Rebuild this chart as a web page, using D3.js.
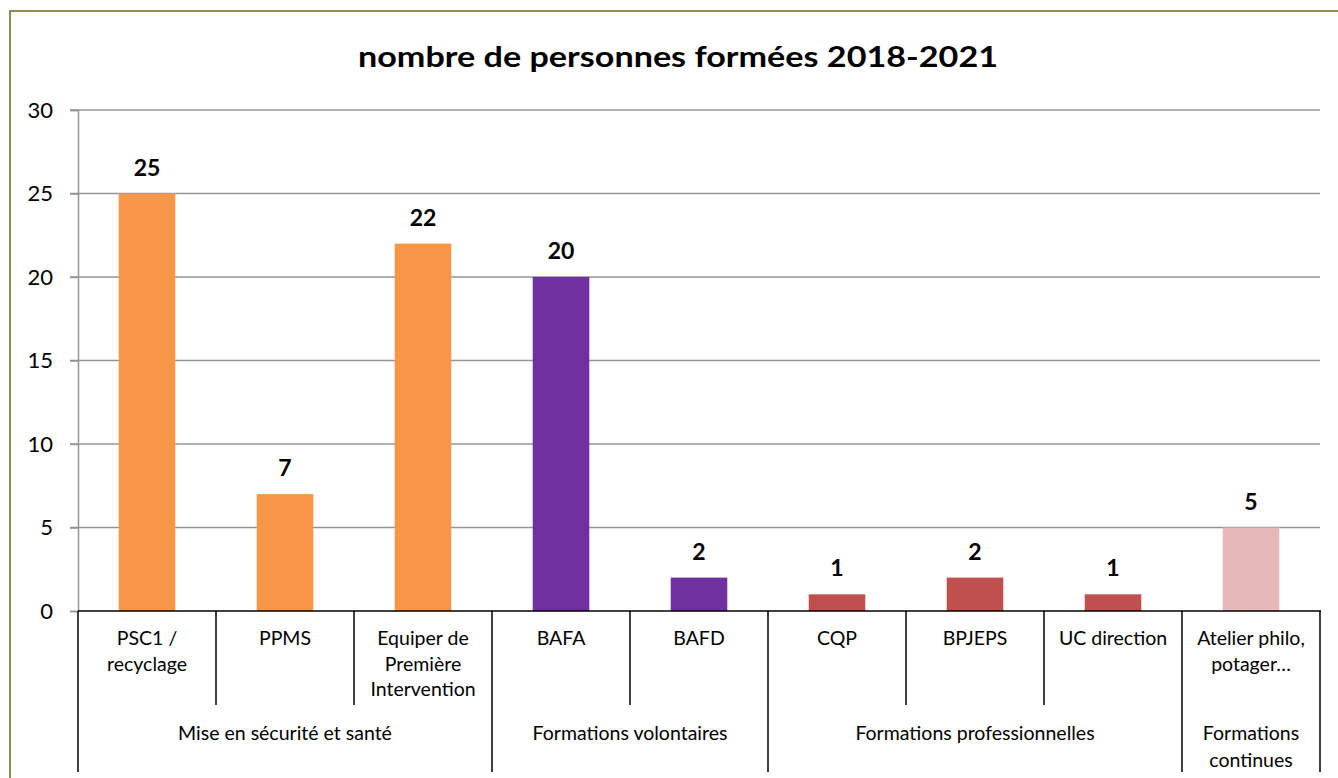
<!DOCTYPE html>
<html lang="fr">
  <head>
    <meta charset="UTF-8" />
    <title>nombre de personnes formées 2018-2021</title>
    <script src="https://d3js.org/d3.v7.min.js"></script>
    <style>
      body { margin: 0; background: white; }
      text { font-family: Lato, "Open Sans", sans-serif; fill: #000; }
    </style>
  </head>
  <body>
    <div id="chart"></div>
    <script>
      // données
      const categories = [
        "PSC1 /\nrecyclage",
        "PPMS",
        "Equiper de\nPremière\nIntervention",
        "BAFA",
        "BAFD",
        "CQP",
        "BPJEPS",
        "UC direction",
        "Atelier philo,\npotager…"
      ];
      const values = [25, 7, 22, 20, 2, 1, 2, 1, 5];
      const groupOf = [0, 0, 0, 1, 1, 2, 2, 2, 3];
      const groups = [
        "Mise en sécurité et santé",
        "Formations volontaires",
        "Formations professionnelles",
        "Formations\ncontinues"
      ];
      const groupColors = ["#F79646", "#7030A0", "#C0504D", "#E6B9B8"];
      const yTicks = [0, 5, 10, 15, 20, 25, 30];

      const width = 1338, height = 778;
      const svg = d3.select("#chart").append("svg")
        .attr("width", width)
        .attr("height", height);

      // cadre
      svg.append("rect")
        .attr("x", 10).attr("y", 11)
        .attr("width", 1360).attr("height", 800)
        .attr("fill", "none")
        .attr("stroke", "#938953")
        .attr("stroke-width", 2);

      svg.append("text")
        .attr("x", 678).attr("y", 67)
        .attr("text-anchor", "middle")
        .attr("font-family", "'Open Sans', sans-serif")
        .attr("font-size", "28px")
        .attr("font-weight", "bold")
        .attr("textLength", 640)
        .attr("lengthAdjust", "spacingAndGlyphs")
        .text("nombre de personnes formées 2018-2021");

      const x = d3.scaleBand()
        .domain(d3.range(categories.length))
        .range([78, 1320])
        .padding(0);
      const y = d3.scaleLinear().domain([0, 30]).range([611, 110]);

      // grille
      svg.append("g").selectAll("line")
        .data(yTicks.filter(d => d > 0))
        .join("line")
        .attr("x1", 70).attr("x2", 1320)
        .attr("y1", d => y(d)).attr("y2", d => y(d))
        .attr("stroke", "#959595")
        .attr("stroke-width", 1.5);

      const yAxis = svg.append("g")
        .attr("transform", "translate(78,0)")
        .call(d3.axisLeft(y).tickValues(yTicks).tickSize(8).tickPadding(17));
      yAxis.select(".domain").attr("stroke", "#959595").attr("stroke-width", 1.5);
      yAxis.selectAll(".tick line").attr("stroke", "#959595").attr("stroke-width", 1.5);
      yAxis.selectAll(".tick text")
        .attr("font-size", "22px")
        .attr("font-family", "Lato, sans-serif")
        .attr("fill", "#000");

      const barW = x.bandwidth() * 0.41;

      svg.append("g").selectAll("rect")
        .data(values)
        .join("rect")
        .attr("x", (d, i) => x(i) + (x.bandwidth() - barW) / 2)
        .attr("y", d => y(d))
        .attr("width", barW)
        .attr("height", d => y(0) - y(d))
        .attr("fill", (d, i) => groupColors[groupOf[i]]);

      svg.append("g").selectAll("text")
        .data(values)
        .join("text")
        .attr("x", (d, i) => x(i) + x.bandwidth() / 2)
        .attr("y", d => y(d) - 18)
        .attr("text-anchor", "middle")
        .attr("font-size", "23px")
        .attr("font-weight", "bold")
        .text(d => d);

      // axe des catégories
      const axis = svg.append("g");
      axis.append("line")
        .attr("x1", 78).attr("x2", 1321)
        .attr("y1", y(0)).attr("y2", y(0))
        .attr("stroke", "#000").attr("stroke-width", 1.5);

      // séparateurs niveau 1 / niveau 2
      const groupStarts = new Set(groupOf.map((g, i) => (i === 0 || groupOf[i - 1] !== g) ? i : -1));
      const bounds = d3.range(categories.length + 1);
      axis.selectAll(".sep")
        .data(bounds)
        .join("line")
        .attr("x1", i => i < categories.length ? x(i) : x.range()[1])
        .attr("x2", i => i < categories.length ? x(i) : x.range()[1])
        .attr("y1", y(0))
        .attr("y2", i => (i === categories.length || groupStarts.has(i)) ? 772 : 705)
        .attr("stroke", "#000").attr("stroke-width", 1.5);

      const catLabels = axis.selectAll(".cat")
        .data(categories)
        .join("text")
        .attr("text-anchor", "middle")
        .attr("font-size", "19.5px");
      catLabels.each(function (d, i) {
        d3.select(this).selectAll("tspan")
          .data(d.split("\n"))
          .join("tspan")
          .attr("x", x(i) + x.bandwidth() / 2)
          .attr("y", (t, k) => 645 + k * 25.5)
          .text(t => t);
      });

      // libellés de groupes
      groups.forEach((g, gi) => {
        const idx = groupOf.map((v, i) => v === gi ? i : -1).filter(i => i >= 0);
        const x0 = x(idx[0]);
        const x1 = x(idx[idx.length - 1]) + x.bandwidth();
        axis.append("text")
          .attr("text-anchor", "middle")
          .attr("font-size", "19.5px")
          .selectAll("tspan")
          .data(g.split("\n"))
          .join("tspan")
          .attr("x", (x0 + x1) / 2)
          .attr("y", (t, k) => 740 + k * 26.5)
          .text(t => t);
      });
    </script>
  </body>
</html>
